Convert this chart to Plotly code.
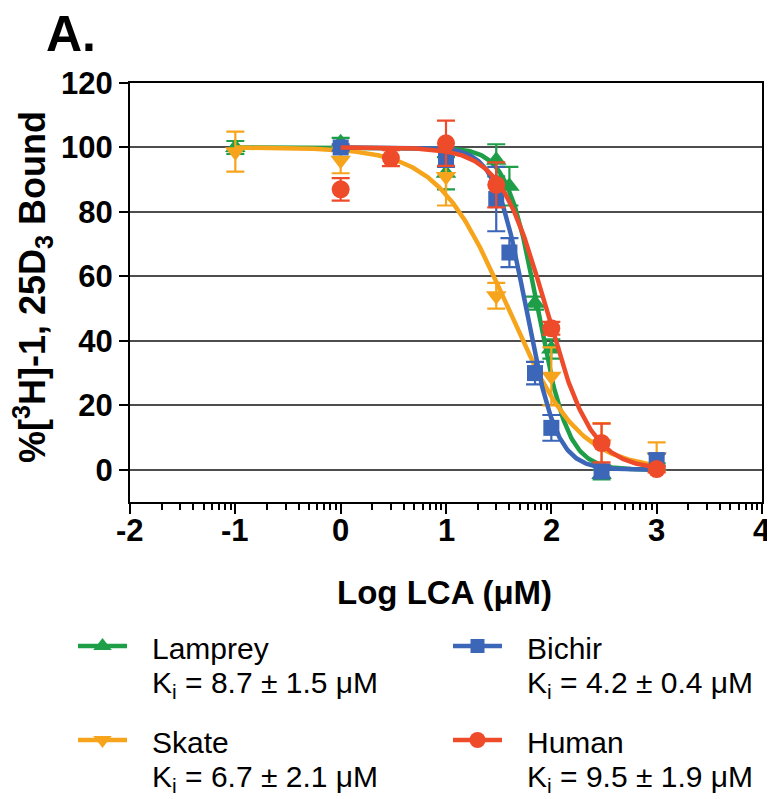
import numpy as np
import plotly.graph_objects as go

# ---------------- data ----------------
species = ["Lamprey", "Skate", "Bichir", "Human"]
ki_labels = ["8.7 ± 1.5", "6.7 ± 2.1", "4.2 ± 0.4", "9.5 ± 1.9"]
colors = ["#1f9e48", "#f7a41d", "#3c66b8", "#ee4b2b"]
symbols = ["triangle-up", "triangle-down", "square", "circle"]

lamprey_x = [-1, 0, 1, 1.477, 1.602, 1.845, 2, 2.477, 3]
lamprey_y = [100, 101.5, 92, 96, 88, 51.7, 37.5, -1.5, 1]
lamprey_err = [2, 1.5, 5, 5, 6, 2, 3, 1.5, 1]

skate_x = [-1, 0, 1, 1.477, 2, 2.477, 3]
skate_y = [98.7, 96, 91, 54, 29, 8, 4]
skate_err = [6.2, 4, 9, 4, 9, 6.5, 4.5]

bichir_x = [0, 1, 1.477, 1.602, 1.845, 2, 2.477, 3]
bichir_y = [100, 97, 84, 67.4, 30, 13, -0.5, 3]
bichir_err = [1, 3, 10, 4.5, 3.5, 4, 2, 2]

human_x = [0, 0.477, 1, 1.477, 2, 2.477, 3]
human_y = [87, 96.7, 101.3, 88.4, 43.9, 8.3, 0.2]
human_err = [3.5, 2.5, 7, 7, 2, 6, 1]

# fitted curve parameters: top, bottom, logIC50, hill slope, x-start, x-end
fit_top = [100, 100, 100, 100]
fit_bottom = [0, 0, 0, 0]
fit_logic50 = [1.87, 1.59, 1.76, 1.95]
fit_hill = [3.0, 1.3, 3.0, 2.0]
fit_start = [-1, -1, 0, 0]
fit_end = [3, 3, 3, 3]

x_ticks = [-2, -1, 0, 1, 2, 3, 4]
y_ticks = [0, 20, 40, 60, 80, 100, 120]

series_x = [lamprey_x, skate_x, bichir_x, human_x]
series_y = [lamprey_y, skate_y, bichir_y, human_y]
series_err = [lamprey_err, skate_err, bichir_err, human_err]

# ---------------- figure ----------------
OFF = 8                      # page body margin
W, H = 775 - OFF, 799 - OFF


def px(x):
    return (x - OFF) / W


def py(y):
    return 1 - (y - OFF) / H


fig = go.Figure()

marker_sizes = [18, 18, 16, 18]

for i in range(4):
    xs = np.linspace(fit_start[i], fit_end[i], 400)
    ys = fit_bottom[i] + (fit_top[i] - fit_bottom[i]) / (1 + 10 ** ((xs - fit_logic50[i]) * fit_hill[i]))
    fig.add_trace(go.Scatter(x=xs, y=ys, mode="lines",
                             line=dict(color=colors[i], width=4.5),
                             showlegend=False, hoverinfo="skip"))
    fig.add_trace(go.Scatter(x=series_x[i], y=series_y[i], mode="markers",
                             marker=dict(symbol=symbols[i], size=marker_sizes[i], color=colors[i]),
                             error_y=dict(type="data", array=series_err[i], visible=True,
                                          color=colors[i], thickness=2.2, width=9),
                             name=species[i], showlegend=False))

# legend samples on a pixel-space overlay axis (reference pixel coordinates)
leg_pos = [(78, 646), (78, 740), (453, 646), (453, 740)]  # Lamprey, Skate, Bichir, Human
for i in range(4):
    lx, ly = leg_pos[i]
    fig.add_trace(go.Scatter(x=[lx, lx + 49], y=[ly, ly], mode="lines",
                             line=dict(color=colors[i], width=4.5),
                             xaxis="x2", yaxis="y2", showlegend=False, hoverinfo="skip"))
    fig.add_trace(go.Scatter(x=[lx + 24.5], y=[ly], mode="markers",
                             marker=dict(symbol=symbols[i], size=marker_sizes[i] - 2, color=colors[i]),
                             xaxis="x2", yaxis="y2", showlegend=False, hoverinfo="skip"))

annotations = []
for i in range(4):
    lx, ly = leg_pos[i]
    tx = lx + 72
    annotations.append(dict(x=px(tx), y=py(ly + 2), xref="paper", yref="paper",
                            text=species[i], showarrow=False, xanchor="left", yanchor="middle",
                            font=dict(family="Liberation Sans, Arial", size=30, color="black")))
    annotations.append(dict(x=px(tx), y=py(ly + 38), xref="paper", yref="paper",
                            text="K<sub>i</sub> = " + ki_labels[i] + " μM", showarrow=False,
                            xanchor="left", yanchor="middle",
                            font=dict(family="Liberation Sans, Arial", size=30, color="black")))

# x tick labels placed as text at the tick values
for v in x_ticks:
    annotations.append(dict(x=v, y=py(530), xref="x", yref="paper", text="<b>%d</b>" % v,
                            showarrow=False, xanchor="center", yanchor="middle",
                            font=dict(family="Liberation Sans, Arial", size=31, color="black")))

annotations.append(dict(x=px(71), y=py(34), xref="paper", yref="paper", text="<b>A.</b>",
                        showarrow=False, xanchor="center", yanchor="middle",
                        font=dict(family="Liberation Sans, Arial", size=50, color="black")))
annotations.append(dict(x=px(33), y=py(287), xref="paper", yref="paper",
                        text="<b>%[<sup>3</sup>H]-1, 25D<sub>3</sub> Bound</b>", textangle=-90,
                        showarrow=False, xanchor="center", yanchor="middle",
                        font=dict(family="Liberation Sans, Arial", size=36, color="black")))
annotations.append(dict(x=px(444), y=py(592), xref="paper", yref="paper",
                        text="<b>Log LCA (μM)</b>",
                        showarrow=False, xanchor="center", yanchor="middle",
                        font=dict(family="Liberation Sans, Arial", size=33, color="black")))

minor_vals = [k + np.log10(j) for k in range(-2, 4) for j in range(2, 10)]

tickfont = dict(family="Liberation Sans, Arial", size=31, color="black", weight="bold")

fig.update_layout(
    width=W, height=H,
    margin=dict(l=0, r=0, t=0, b=0, autoexpand=False),
    paper_bgcolor="white", plot_bgcolor="rgba(0,0,0,0)",
    showlegend=False,
    annotations=annotations,
    xaxis=dict(domain=[px(130), px(762)], range=[-2, 4], tickmode="array", tickvals=x_ticks,
               showticklabels=False,
               ticks="outside", ticklen=10, tickwidth=2, tickcolor="black",
               showline=True, linewidth=2, linecolor="black", mirror=True,
               showgrid=False, zeroline=False, automargin=False,
               minor=dict(tickmode="array", tickvals=minor_vals, ticks="outside",
                          ticklen=6, tickwidth=2, tickcolor="black", showgrid=False)),
    yaxis=dict(domain=[py(502), py(83)], range=[-10, 120], tickmode="array",
               tickvals=y_ticks, ticktext=[str(v) for v in y_ticks],
               ticks="outside", ticklen=9, tickwidth=2, tickcolor="black",
               showline=True, linewidth=2, linecolor="black", mirror=True,
               showgrid=True, gridcolor="#4d4d4d", gridwidth=1.6, zeroline=False,
               tickfont=tickfont, automargin=False),
    xaxis2=dict(domain=[0, 1], range=[OFF, OFF + W], visible=False, anchor="y2", fixedrange=True),
    yaxis2=dict(domain=[0, 1], range=[OFF + H, OFF], visible=False, anchor="x2", fixedrange=True),
)

fig.write_html("out.html")
